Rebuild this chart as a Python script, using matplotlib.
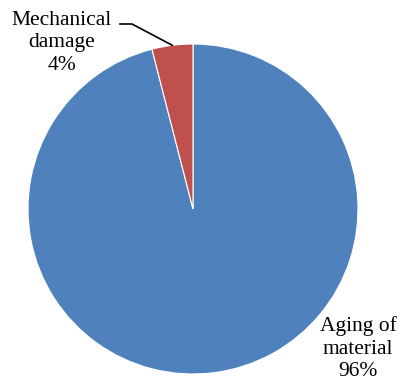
import numpy as np
import matplotlib.pyplot as plt

causes = ["Aging of\nmaterial", "Mechanical\ndamage"]
shares = [96, 4]
colors = ["#4F81BD", "#C0504D"]

plt.rcParams["font.family"] = ["Liberation Serif", "DejaVu Serif"]

W, H = 402, 385
fig = plt.figure(figsize=(W / 100, H / 100), dpi=100)
# pie centre and radius in pixels
cx, cy, r = 193, 209, 165
ax = fig.add_axes([(cx - r) / W, (H - cy - r) / H, 2 * r / W, 2 * r / H])

wedges, _ = ax.pie(shares, colors=colors, startangle=90, counterclock=False,
                   radius=1, wedgeprops=dict(edgecolor="white", linewidth=0.8))
ax.set_xlim(-1, 1)
ax.set_ylim(-1, 1)
ax.axis("off")


def px(x, y):
    # pixel position -> data coords of the pie axes
    return (x - cx) / r, (cy - y) / r


labels = [f"{c}\n{s}%" for c, s in zip(causes, shares)]

# big slice: label outside, lower right
ax.text(*px(358, 349), labels[0], ha="center", va="center", fontsize=15.5,
        linespacing=1.25, clip_on=False)

# small slice: label top left with a leader line to the slice edge
w = wedges[1]
mid = np.deg2rad((w.theta1 + w.theta2) / 2)
tip = (np.cos(mid), np.sin(mid))
x0, y0 = px(120, 24)
x1, y1 = px(132, 24)
ax.plot([x0, x1, tip[0]], [y0, y1, tip[1]], color="black", lw=1.2, clip_on=False)
ax.text(*px(62, 43), labels[1], ha="center", va="center", fontsize=15.5,
        linespacing=1.25, clip_on=False)

fig.savefig("out.png", dpi=100)
